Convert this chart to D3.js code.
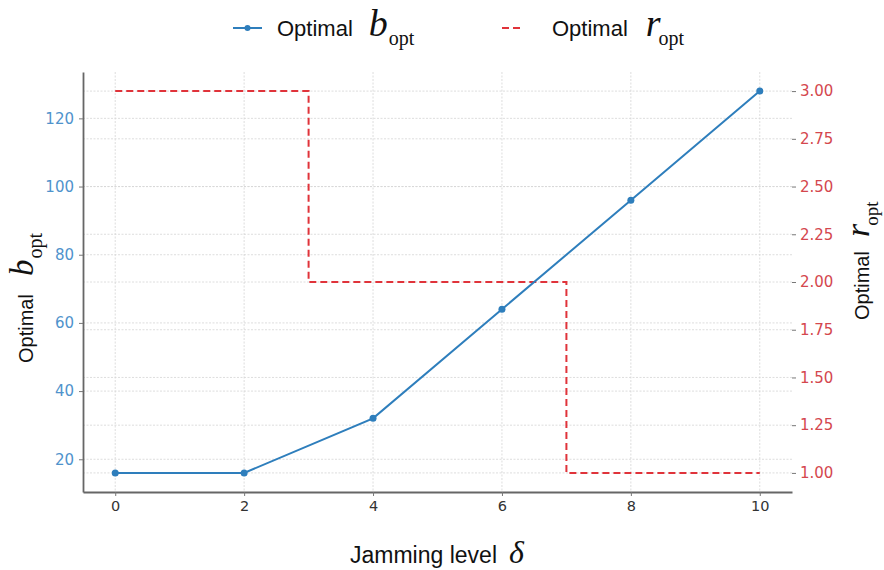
<!DOCTYPE html>
<html>
<head>
<meta charset="utf-8">
<script src="https://cdn.jsdelivr.net/npm/d3@7"></script>
<style>
  body { margin: 0; background: #fff; }
  svg { font-family: "DejaVu Sans", sans-serif; }
  .tick text { font-size: 15px; font-family: "DejaVu Sans", sans-serif; }
  .xax .tick text { font-size: 14.5px; }
</style>
</head>
<body>
<script>
// data
const jamming = [0, 2, 4, 6, 8, 10];
const bOpt = [16, 16, 32, 64, 96, 128];
const rLevels = [0, 1, 2, 3, 4, 5, 6, 7, 8, 9, 10];
const rOpt = [3, 3, 3, 2, 2, 2, 2, 1, 1, 1, 1];
const xTicks = [0, 2, 4, 6, 8, 10];
const bTicks = [20, 40, 60, 80, 100, 120];
const rTicks = [1.00, 1.25, 1.50, 1.75, 2.00, 2.25, 2.50, 2.75, 3.00];

const W = 884, H = 570;
const m = {left: 83, right: 92, top: 72, bottom: 78};
const blue = '#2e7ebc', red = '#e0333a';

const svg = d3.select('body')
  .append('svg')
  .attr('width', W)
  .attr('height', H);

const x = d3.scaleLinear().domain([-0.5, 10.5]).range([m.left, W - m.right]);
const yB = d3.scaleLinear().domain([10.4, 133.6]).range([H - m.bottom, m.top]);
const yR = d3.scaleLinear().domain([0.9, 3.1]).range([H - m.bottom, m.top]);

/* grid */
const grid = svg.append('g').attr('stroke', '#d6d6d6').attr('stroke-width', 0.8)
  .attr('stroke-dasharray', '2,1.5');
grid.selectAll('.gx').data(xTicks).enter().append('line')
  .attr('x1', d => x(d)).attr('x2', d => x(d))
  .attr('y1', m.top).attr('y2', H - m.bottom);
grid.selectAll('.gb').data(bTicks).enter().append('line')
  .attr('x1', m.left).attr('x2', W - m.right)
  .attr('y1', d => yB(d)).attr('y2', d => yB(d));
grid.selectAll('.gr').data(rTicks).enter().append('line')
  .attr('x1', m.left).attr('x2', W - m.right)
  .attr('y1', d => yR(d)).attr('y2', d => yR(d));

/* axes */
const xAxis = svg.append('g')
  .attr('class', 'xax')
  .attr('transform', `translate(0,${H - m.bottom})`)
  .call(d3.axisBottom(x).tickValues(xTicks).tickSize(4).tickSizeOuter(0).tickPadding(5));
xAxis.selectAll('text').attr('fill', '#333');

const bAxis = svg.append('g')
  .attr('transform', `translate(${m.left},0)`)
  .call(d3.axisLeft(yB).tickValues(bTicks).tickSize(4).tickSizeOuter(0).tickPadding(5));
bAxis.selectAll('text').attr('fill', '#4f93cc');

const rAxis = svg.append('g')
  .attr('transform', `translate(${W - m.right},0)`)
  .call(d3.axisRight(yR).tickValues(rTicks).tickSize(4).tickPadding(4).tickFormat(d3.format('.2f')));
rAxis.selectAll('text').attr('fill', '#d4474e');
rAxis.select('.domain').remove();

svg.selectAll('.domain').attr('stroke', '#666').attr('stroke-width', 1.8);
svg.selectAll('.tick line').attr('stroke', '#777');

/* red step line */
svg.append('path')
  .datum(rLevels.map((d, i) => [d, rOpt[i]]))
  .attr('d', d3.line().x(d => x(d[0])).y(d => yR(d[1])).curve(d3.curveStepAfter))
  .attr('fill', 'none')
  .attr('stroke', red)
  .attr('stroke-width', 2)
  .attr('stroke-dasharray', '7,4');

/* blue line */
svg.append('path')
  .datum(jamming.map((d, i) => [d, bOpt[i]]))
  .attr('d', d3.line().x(d => x(d[0])).y(d => yB(d[1])))
  .attr('fill', 'none')
  .attr('stroke', blue)
  .attr('stroke-width', 2);

svg.append('g').selectAll('circle')
  .data(jamming.map((d, i) => [d, bOpt[i]]))
  .enter().append('circle')
  .attr('cx', d => x(d[0])).attr('cy', d => yB(d[1]))
  .attr('r', 3.5)
  .attr('fill', blue);

/* "Optimal" + italic serif symbol + "opt" subscript */
function mathLabel(g, sym, fs, gap) {
  const t = g.append('text').attr('fill', '#111');
  t.append('tspan').text('Optimal').style('font-family', 'Liberation Sans, Arial, sans-serif').style('font-size', fs[0] + 'px');
  t.append('tspan').text(sym).attr('dx', gap)
    .style('font-family', 'Liberation Serif, serif').style('font-style', 'italic').style('font-size', fs[1] + 'px');
  t.append('tspan').text('opt').attr('dy', fs[2] * 0.45).attr('dx', sym === 'b' ? 1 : -2)
    .style('font-family', 'Liberation Serif, serif').style('font-size', fs[2] + 'px');
  return t;
}

/* legend */
const leg = svg.append('g');
leg.append('line').attr('x1', 233).attr('x2', 262).attr('y1', 28).attr('y2', 28)
  .attr('stroke', blue).attr('stroke-width', 2);
leg.append('circle').attr('cx', 247.5).attr('cy', 28).attr('r', 3).attr('fill', blue);
mathLabel(leg.append('g').attr('transform', 'translate(277,36)'), 'b', [22, 38, 20], 16);
leg.append('line').attr('x1', 502).attr('x2', 524).attr('y1', 28).attr('y2', 28)
  .attr('stroke', red).attr('stroke-width', 2).attr('stroke-dasharray', '7,4');
mathLabel(leg.append('g').attr('transform', 'translate(552,36)'), 'r', [22, 38, 20], 18);

/* axis titles */
mathLabel(svg.append('g').attr('transform', 'translate(33,363) rotate(-90)'), 'b', [20, 33, 20], 18);
mathLabel(svg.append('g').attr('transform', 'translate(869,320) rotate(-90)'), 'r', [20, 34, 19], 14);

const xt = svg.append('text').attr('transform', 'translate(350,563)').attr('fill', '#111');
xt.append('tspan').text('Jamming level').style('font-family', 'Liberation Sans, Arial, sans-serif').style('font-size', '23px');
xt.append('tspan').text('δ').attr('dx', 12).style('font-family', 'Liberation Serif, serif').style('font-style', 'italic').style('font-size', '32px');
</script>
</body>
</html>
